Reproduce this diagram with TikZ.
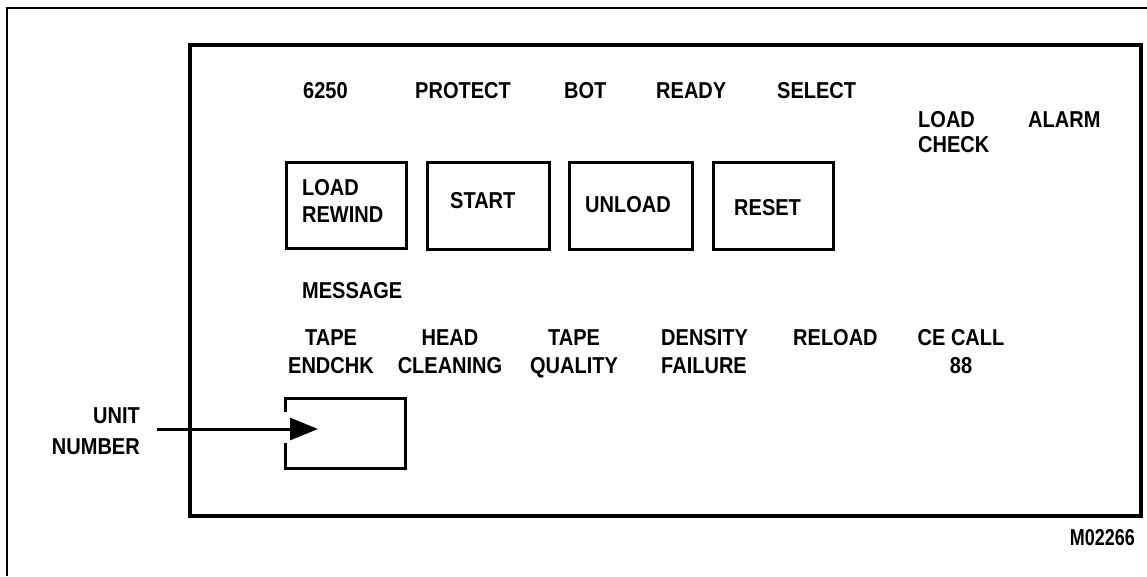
\documentclass[tikz,border=0pt]{standalone}
\usepackage{fontspec}
\setmainfont{Liberation Sans}[FakeStretch=0.87]
\newfontfamily\idfont{Liberation Sans}[FakeStretch=0.78]
\usetikzlibrary{arrows.meta}
\begin{document}
\begin{tikzpicture}[x=1pt,y=-1pt,
  txt/.style={inner sep=0pt,font=\fontsize{23}{27}\selectfont\bfseries},
  lbl/.style={txt,anchor=base west,align=left},
  clbl/.style={txt,anchor=base,align=center},
  rlbl/.style={txt,anchor=base east,align=right},
  btn/.style={draw,line width=3pt,inner sep=0pt,anchor=north west},
  panel/.style={draw,line width=3.5pt,inner sep=0pt,anchor=north west},
  outer/.style={line width=1.5pt},
  pointer/.style={line width=3pt,-{Triangle[length=28pt,width=22pt]}},
]
\useasboundingbox (0,0) rectangle (1147,576);

% outer frame (only top and left visible)
\coordinate (obl) at (7,576);
\coordinate (otl) at (7,8);
\coordinate (otr) at (1147,8);
\draw[outer] (obl) -- (otl) -- (otr);

% panel
\node[panel,minimum width=951pt,minimum height=471pt] (panelbox) at (188,43) {};

% top indicator labels
\node[lbl] (l6250) at (303,98) {6250};
\node[lbl] (lprotect) at (415,98) {PROTECT};
\node[lbl] (lbot) at (564,98) {BOT};
\node[lbl] (lready) at (656,98) {READY};
\node[lbl] (lselect) at (777,98) {SELECT};
\node[lbl,font=\fontsize{23}{25}\selectfont\bfseries] (lloadcheck) at (918,152) {LOAD\\CHECK};
\node[lbl] (lalarm) at (1028,127) {ALARM};

% buttons
\node[btn,minimum width=120pt,minimum height=86pt] (bload) at (285,161) {};
\node[btn,minimum width=122pt,minimum height=87pt] (bstart) at (426,161) {};
\node[btn,minimum width=123pt,minimum height=87pt] (bunload) at (568,161) {};
\node[btn,minimum width=120pt,minimum height=87pt] (breset) at (712,161) {};
\node[lbl] (tload) at (302,222) {LOAD\\REWIND};
\node[lbl] (tstart) at (450,208) {START};
\node[lbl] (tunload) at (585,212) {UNLOAD};
\node[lbl] (treset) at (734,215) {RESET};

% message area
\node[lbl] (lmessage) at (302,298) {MESSAGE};
\node[clbl,font=\fontsize{23}{28}\selectfont\bfseries] (mtape) at (331,373) {TAPE\\ENDCHK};
\node[clbl,font=\fontsize{23}{28}\selectfont\bfseries] (mhead) at (450,373) {HEAD\\CLEANING};
\node[clbl,font=\fontsize{23}{28}\selectfont\bfseries] (mquality) at (574,373) {TAPE\\QUALITY};
\node[lbl,font=\fontsize{23}{28}\selectfont\bfseries] (mdensity) at (661,373) {DENSITY\\FAILURE};
\node[lbl] (mreload) at (793,345) {RELOAD};
\node[clbl,font=\fontsize{23}{28}\selectfont\bfseries] (mcecall) at (961,373) {CE CALL\\88};

% unit number display
\coordinate (ugapt) at (285,412);
\coordinate (ugapb) at (285,443);
\coordinate (utl) at (285,398);
\coordinate (utr) at (405,398);
\coordinate (ubr) at (405,468);
\coordinate (ubl) at (285,468);
\draw[line width=3pt] (ugapt) -- (utl) -- (utr) -- (ubr) -- (ubl) -- (ugapb);
\node[rlbl,font=\fontsize{23}{31}\selectfont\bfseries] (lunit) at (140,454) {UNIT\\NUMBER};
\coordinate (arrowstart) at (157,429);
\coordinate (arrowtip) at (318,429);
\draw[pointer] (arrowstart) -- (arrowtip);

% figure id
\node[inner sep=0pt,anchor=base east,font=\idfont\fontsize{23}{23}\selectfont\bfseries] (figid) at (1135,545) {M02266};
\end{tikzpicture}
\end{document}
